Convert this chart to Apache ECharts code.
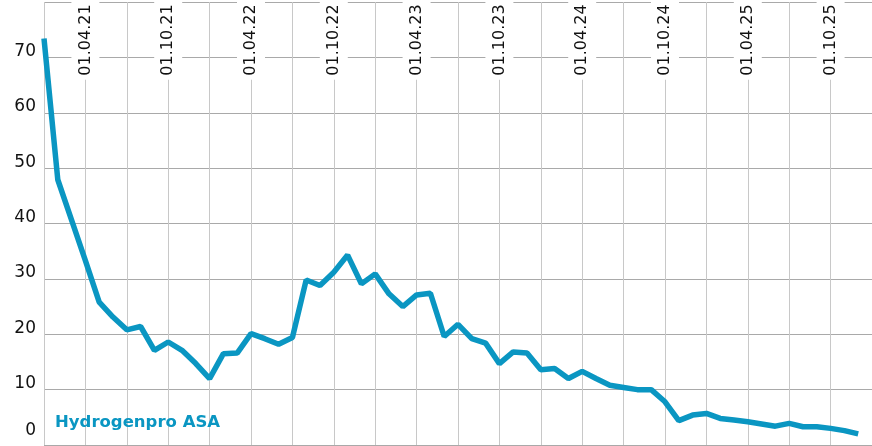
<!DOCTYPE html>
<html>
<head>
<meta charset="utf-8">
<style>
    html, body { margin: 0; padding: 0; background: #fff; }
    #chart { width: 872px; height: 446px; }
</style>
<script src="https://cdn.jsdelivr.net/npm/echarts@6/dist/echarts.min.js"></script>
</head>
<body>
<div id="chart"></div>
<script>
// Kurs Hydrogenpro ASA, ein Wert pro Monat ab Januar 2021
var seriesName = 'Hydrogenpro ASA'
var prices = [
    73.4, 47.9, 40.6, 33.3, 25.8, 23.1, 20.8, 21.4, 17.1, 18.6, 17.1, 14.7,
    12.0, 16.5, 16.6, 20.1, 19.2, 18.2, 19.4, 29.8, 28.8, 31.2, 34.3, 29.1,
    30.9, 27.3, 25.0, 27.1, 27.4, 19.6, 21.8, 19.2, 18.4, 14.7, 16.8, 16.6,
    13.6, 13.8, 12.0, 13.3, 12.0, 10.8, 10.4, 10.0, 10.0, 7.8, 4.4, 5.4,
    5.7, 4.8, 4.5, 4.2, 3.8, 3.4, 3.9, 3.3, 3.3, 3.0, 2.6, 2.0
]
// Beschriftung oben, alle 6 Monate ab April 2021
var dateLabels = ['01.04.21', '01.10.21', '01.04.22', '01.10.22', '01.04.23',
    '01.10.23', '01.04.24', '01.10.24', '01.04.25', '01.10.25']
var yTicks = [0, 10, 20, 30, 40, 50, 60, 70]

// Monatskategorien 2021-01 .. 2025-12
var months = []
for (var y = 2021; y <= 2025; y++) {
    for (var m = 1; m <= 12; m++) {
        months.push(y + '-' + (m < 10 ? '0' + m : m))
    }
}

(function() {
    var myChart = echarts.init(document.getElementById('chart'))
    var font = 'DejaVu Sans'
    var blue = '#0a96c2'

    // x = Monatsindex (0 = Jan 2021)
    var data = prices.map(function(v, i) {
        return [months.indexOf(months[i]), v]
    })

    var option = {
        animation: false,
        title: {
            text: seriesName,
            left: 55,
            top: 414,
            padding: 0,
            textStyle: {
                color: blue,
                fontFamily: font,
                fontWeight: 'bold',
                fontSize: 16.5
            }
        },
        grid: {
            left: 44,
            right: 0,
            top: 2,
            bottom: 1,
            outerBoundsMode: 'none'
        },
        xAxis: [{
            // nur senkrechte Gitterlinien (Quartale)
            type: 'value',
            min: 0,
            max: months.length,
            interval: 3,
            position: 'top',
            axisLine: { show: false },
            axisTick: { show: false },
            axisLabel: { show: false },
            splitLine: {
                lineStyle: { color: '#c8c8c8', width: 1 }
            }
        }, {
            // Datumsbeschriftung mit weissem Hintergrund
            type: 'value',
            min: 0,
            max: months.length,
            interval: 3,
            position: 'top',
            z: 10,
            axisLine: { show: false },
            axisTick: { show: false },
            splitLine: { show: false },
            axisLabel: {
                inside: true,
                rotate: -90,
                margin: 38,
                align: 'center',
                showMinLabel: true,
                showMaxLabel: true,
                formatter: function(v) {
                    if ((v - 3) % 6 !== 0) return ''
                    var lbl = dateLabels[(v - 3) / 6]
                    return lbl ? '{a|' + lbl + '}' : ''
                },
                rich: {
                    a: {
                        fontFamily: font,
                        fontSize: 16,
                        color: '#111',
                        lineHeight: 16,
                        backgroundColor: '#fff',
                        padding: [6, 4, 6, 4]
                    }
                }
            }
        }],
        yAxis: {
            type: 'value',
            min: 0,
            max: 80,
            interval: 10,
            axisLine: { show: false },
            axisTick: { show: false },
            axisLabel: {
                margin: 8,
                fontFamily: font,
                fontSize: 17,
                color: '#111',
                formatter: function(v) {
                    if (yTicks.indexOf(v) < 0) return ''
                    return v === 0 ? '{z|0}' : '{n|' + v + '}'
                },
                rich: {
                    n: { fontFamily: font, fontSize: 17, color: '#111', padding: [0, 0, 12, 0] },
                    z: { fontFamily: font, fontSize: 17, color: '#111', padding: [0, 0, 28, 0] }
                }
            },
            splitLine: {
                lineStyle: { color: '#a9a9a9', width: 1 }
            }
        },
        series: [{
            name: seriesName,
            type: 'line',
            xAxisIndex: 0,
            data: data,
            showSymbol: false,
            lineStyle: { color: blue, width: 5.5 },
            itemStyle: { color: blue }
        }]
    }
    myChart.setOption(option)
    window.addEventListener('resize', function() {
        myChart.resize()
    })
})();
</script>
</body>
</html>
